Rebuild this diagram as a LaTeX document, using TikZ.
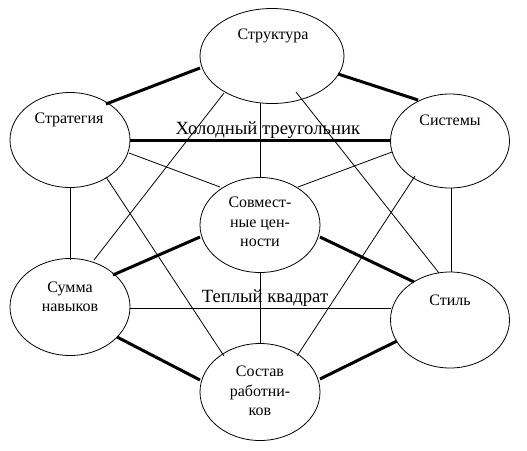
\documentclass[tikz,border=0pt]{standalone}
\usepackage{fontspec}
\setmainfont{Liberation Serif}
\usetikzlibrary{shapes.geometric,calc}
\begin{document}
\begin{tikzpicture}[x=1pt,y=-1pt,
  ell/.style={draw,ellipse,inner sep=0pt,line width=0.8pt},
  txt/.style={inner sep=0pt,align=center,font=\fontsize{16}{19.5}\selectfont},
  big/.style={inner sep=0pt,font=\fontsize{18.7}{22}\selectfont},
  thin/.style={line width=0.8pt},
  thick/.style={line width=3pt}]
\useasboundingbox (0,0) rectangle (527,450);
% ellipses
\node[ell,minimum width=144pt,minimum height=95pt] (A) at (272,56) {};
\node[ell,minimum width=120pt,minimum height=95pt] (B) at (70,140) {};
\node[ell,minimum width=119pt,minimum height=94pt] (C) at (450,141) {};
\node[ell,minimum width=120pt,minimum height=95pt] (D) at (260,225) {};
\node[ell,minimum width=120pt,minimum height=97pt] (E) at (70,307) {};
\node[ell,minimum width=119pt,minimum height=96pt] (F) at (450,320) {};
\node[ell,minimum width=120pt,minimum height=97pt] (G) at (260,392) {};
% texts
\node[txt] (tA) at (273,36) {Структура};
\node[txt] (tB) at (69,120) {Стратегия};
\node[txt] (tC) at (450,120) {Системы};
\node[txt] (tD) at (260,222) {Совмест-\\ные цен-\\ности};
\node[txt] (tE) at (70,297) {Сумма\\навыков};
\node[txt] (tF) at (450,300) {Стиль};
\node[txt] (tG) at (260,391) {Состав\\работни-\\ков};
% thick connectors
\draw[thick] ($(A)+(-72,12)$) -- ($(B)+(36,-36)$);
\draw[thick] ($(A)+(66,18)$) -- ($(C)+(-32,-41)$);
\draw[thick] ($(B)+(60,0)$) -- ($(C)+(-59,-1)$);
\draw[thick] ($(E)+(43,-32)$) -- ($(D)+(-60,12)$);
\draw[thick] ($(D)+(60,12)$) -- ($(F)+(-36,-38)$);
\draw[thick] ($(E)+(47,30)$) -- ($(G)+(-60,-12)$);
\draw[thick] ($(F)+(-53,21)$) -- ($(G)+(60,-13)$);
% thin connectors
\draw[thin] ($(A)+(-12,47)$) -- ($(D)+(0,-48)$);
\draw[thin] ($(B)+(59,13)$) -- ($(D)+(-40,-38)$);
\draw[thin] ($(C)+(-58,11)$) -- ($(D)+(38,-38)$);
\draw[thin] ($(B)+(0,47)$) -- ($(E)+(0,-47)$);
\draw[thin] ($(C)+(1,47)$) -- ($(F)+(1,-48)$);
\draw[thin] ($(A)+(-48,37)$) -- ($(E)+(24,-47)$);
\draw[thin] ($(A)+(24,36)$) -- ($(F)+(-11,-47)$);
\draw[thin] ($(B)+(36,37)$) -- ($(G)+(-36,-36)$);
\draw[thin] ($(C)+(-35,35)$) -- ($(G)+(37,-36)$);
\draw[thin] ($(E)+(60,1)$) -- ($(F)+(-59,-12)$);
\draw[thin] ($(D)+(0,47)$) -- ($(G)+(0,-49)$);
% big labels
\node[big] (cold) at (268,130) {Холодный треугольник};
\node[big] (warm) at (265,298) {Теплый квадрат};
\end{tikzpicture}
\end{document}
